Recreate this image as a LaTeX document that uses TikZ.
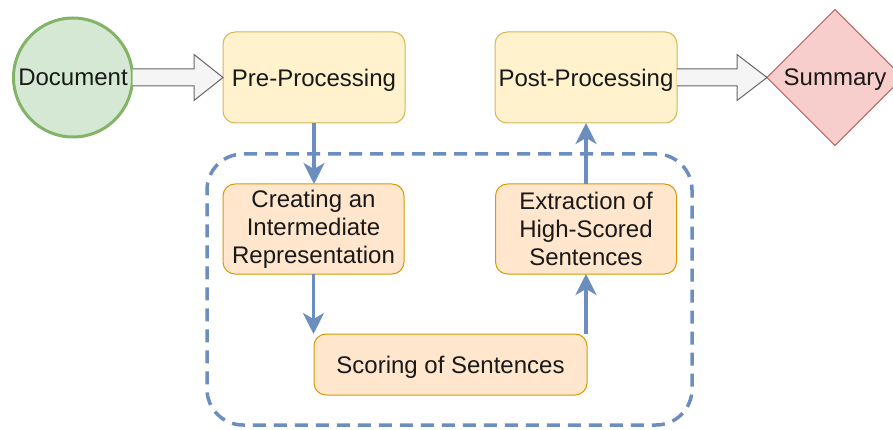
\documentclass[tikz,border=0pt]{standalone}
\usepackage{fontspec}
\setmainfont{Liberation Sans}
\usetikzlibrary{shapes.geometric,arrows.meta,calc}
\definecolor{gfill}{HTML}{D5E8D4}\definecolor{gline}{HTML}{82B366}
\definecolor{yfill}{HTML}{FFF2CC}\definecolor{yline}{HTML}{D6B656}
\definecolor{ofill}{HTML}{FFE6CC}\definecolor{oline}{HTML}{D79B00}
\definecolor{rfill}{HTML}{F8CECC}\definecolor{rline}{HTML}{B85450}
\definecolor{hfill}{HTML}{F5F5F5}\definecolor{hline}{HTML}{666666}
\definecolor{bline}{HTML}{6C8EBF}
\begin{document}
\begin{tikzpicture}[x=1pt,y=-1pt,
  font=\fontsize{24}{28}\selectfont,
  every node/.style={outer sep=0pt, text=black!90},
  oneline/.style={text depth=0pt},
  stagebox/.style={draw, rounded corners=12pt, align=center, inner sep=0pt, line width=1pt},
  yellowbox/.style={stagebox, fill=yfill, draw=yline, minimum width=182pt, minimum height=91pt},
  orangebox/.style={stagebox, fill=ofill, draw=oline, minimum width=181pt, minimum height=90pt},
  hollow/.style={fill=hfill, draw=hline, line width=1pt, line join=miter},
  flow/.style={draw=bline, line width=3.5pt, -{Stealth[length=21pt, width=21pt, inset=6pt]}},
  groupbox/.style={draw=bline, line width=3.5pt, dash pattern=on 13pt off 8pt, rounded corners=36pt, minimum width=485pt, minimum height=271pt}
]
\useasboundingbox (0,0) rectangle (893,430);
\fill[white] (0,0) rectangle (893,430);

\node[groupbox] (grp) at (449.5,289.5) {};

\node[circle, draw=gline, fill=gfill, line width=3pt, minimum size=119pt, inner sep=0pt, oneline] (doc) at (73,77.5) {Document};
\node[yellowbox, oneline] (pre) at (314,77.5) {Pre-Processing};
\node[yellowbox, oneline] (post) at (586,77.5) {Post-Processing};
\node[diamond, aspect=1, draw=rline, fill=rfill, line width=1pt, minimum size=136pt, inner sep=0pt, oneline] (sum) at (835,77.5) {Summary};

\node[orangebox] (create) at (313.5,229) {Creating an\\Intermediate\\Representation};
\node[orangebox] (extract) at (586,229) {Extraction of\\High-Scored\\Sentences};
\node[stagebox, fill=ofill, draw=oline, minimum width=273pt, minimum height=61pt, oneline] (score) at (450.5,364.5) {Scoring of Sentences};

% hollow block arrows
\filldraw[hollow] ($(doc.east)+(0,-8.5)$) -- ($(pre.west)+(-29,-8.5)$) -- ($(pre.west)+(-29,-23)$) -- (pre.west)
  -- ($(pre.west)+(-29,23)$) -- ($(pre.west)+(-29,8.5)$) -- ($(doc.east)+(0,8.5)$);
\filldraw[hollow] ($(post.east)+(0,-8.5)$) -- ($(sum.west)+(-30,-8.5)$) -- ($(sum.west)+(-30,-23)$) -- (sum.west)
  -- ($(sum.west)+(-30,23)$) -- ($(sum.west)+(-30,8.5)$) -- ($(post.east)+(0,8.5)$);

% flow arrows
\draw[flow] (pre.south) -- (pre.south |- create.north);
\draw[flow] (create.south) -- (create.south |- score.north);
\draw[flow] (extract.south |- score.north) -- (extract.south);
\draw[flow] (extract.north) -- (extract.north |- post.south);
\end{tikzpicture}
\end{document}
